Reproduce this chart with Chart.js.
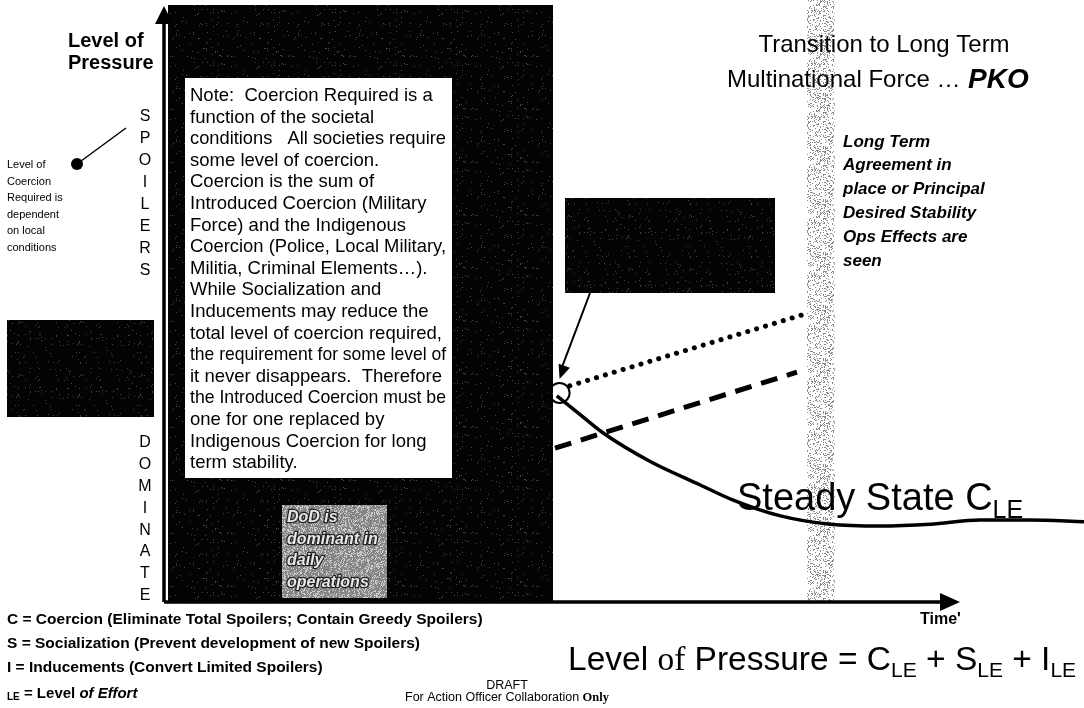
<!DOCTYPE html>
<html lang="en">
<head>
<meta charset="UTF-8">
<title>Level of Pressure</title>
<script src="https://cdn.jsdelivr.net/npm/chart.js"></script>
<style>
  html, body { margin: 0; padding: 0; background: #fff; }
  #wrap { width: 1084px; height: 708px; }
</style>
</head>
<body>
<div id="wrap"><canvas id="pressureChart" width="1084" height="708"></canvas></div>
<script>
// both axes run 0..100 (time across, level of pressure up)
const coercionTime  = [42.7, 45.2, 47.7, 52.8, 58.3, 61.8, 67.0, 72.4, 77.8, 83.3, 88.7, 94.1, 100];
const coercionLevel = [34.7, 31.6, 28.5, 23.7, 19.7, 17.2, 14.5, 13.1, 12.8, 13.1, 13.8, 13.8, 13.5];
const dottedTime  = [44.1, 69.3];
const dottedLevel = [36.4, 48.3];
const dashedTime  = [42.5, 68.8];
const dashedLevel = [25.9, 38.7];
const startTime  = [43.0];
const startLevel = [35.2];
const transitionBand = [69.9, 72.9];

const titleLines = ['Transition to Long Term', 'Multinational Force \u2026', 'PKO'];
const noteLines = [
  'Note:  Coercion Required is a',
  'function of the societal',
  'conditions   All societies require',
  'some level of coercion.',
  'Coercion is the sum of',
  'Introduced Coercion (Military',
  'Force) and the Indigenous',
  'Coercion (Police, Local Military,',
  'Militia, Criminal Elements\u2026).',
  'While Socialization and',
  'Inducements may reduce the',
  'total level of coercion required,',
  'the requirement for some level of',
  'it never disappears.  Therefore',
  'the Introduced Coercion must be',
  'one for one replaced by',
  'Indigenous Coercion for long',
  'term stability.'
];
const coercionLabel = ['Level of', 'Coercion', 'Required is', 'dependent', 'on local', 'conditions'];
const agreementLines = ['Long Term', 'Agreement in', 'place or Principal', 'Desired Stability', 'Ops Effects are', 'seen'];
const dodLines = ['DoD is', 'dominant in', 'daily', 'operations'];
const legendLines = [
  'C = Coercion (Eliminate Total Spoilers; Contain Greedy Spoilers)',
  'S = Socialization (Prevent development of new Spoilers)',
  'I = Inducements (Convert Limited Spoilers)'
];

const SANS = '"Liberation Sans", Arial, sans-serif';
const SERIF = '"Liberation Serif", "Times New Roman", serif';

function pts(xs, ys) { return xs.map((x, i) => ({ x: x, y: ys[i] })); }

// fixed dither pattern for the scanned-looking fills
function speckle(ctx, base, dot, density, seed) {
  const c = document.createElement('canvas');
  c.width = 61; c.height = 53;
  const g = c.getContext('2d');
  g.fillStyle = base; g.fillRect(0, 0, c.width, c.height);
  g.fillStyle = dot;
  for (let i = 0; i < c.width; i++) {
    for (let j = 0; j < c.height; j++) {
      let h = Math.imul(i * 374761393 + j * 668265263 + seed, 1274126177);
      h ^= h >>> 13; h = Math.imul(h, 1597334677); h ^= h >>> 16;
      if (((h >>> 0) % 1000) < density * 1000) g.fillRect(i, j, 1, 1);
    }
  }
  return ctx.createPattern(c, 'repeat');
}

function text(ctx, str, x, y, font, align, maxW) {
  ctx.font = font;
  ctx.textAlign = align || 'left';
  ctx.textBaseline = 'middle';
  if (maxW) ctx.fillText(str, x, y, maxW);
  else ctx.fillText(str, x, y);
}

// draw runs of text on one baseline: [str, font, dy]
function runs(ctx, x, y, parts) {
  ctx.textAlign = 'left';
  ctx.textBaseline = 'alphabetic';
  parts.forEach(p => {
    ctx.font = p[1];
    ctx.fillText(p[0], x, y + (p[2] || 0));
    x += ctx.measureText(p[0]).width;
  });
  return x;
}

function arrowHead(ctx, tx, ty, angle, len, half) {
  ctx.beginPath();
  ctx.moveTo(tx, ty);
  ctx.lineTo(tx - len * Math.cos(angle) + half * Math.sin(angle), ty - len * Math.sin(angle) - half * Math.cos(angle));
  ctx.lineTo(tx - len * Math.cos(angle) - half * Math.sin(angle), ty - len * Math.sin(angle) + half * Math.cos(angle));
  ctx.closePath();
  ctx.fill();
}

const backdrop = {
  id: 'backdrop',
  beforeDatasetsDraw(chart) {
    const ctx = chart.ctx;
    const xs = chart.scales.x, ys = chart.scales.y;
    ctx.save();
    // transition band
    const b0 = xs.getPixelForValue(transitionBand[0]);
    const b1 = xs.getPixelForValue(transitionBand[1]);
    ctx.fillStyle = speckle(ctx, '#ffffff', '#8a8a8a', 0.22, 11);
    ctx.fillRect(b0, 0, b1 - b0, ys.getPixelForValue(0));

    // dark panel
    ctx.fillStyle = speckle(ctx, '#030303', '#484848', 0.025, 3);
    ctx.fillRect(168, 5, 385, 597);
    // note box
    ctx.fillStyle = '#ffffff';
    ctx.fillRect(185, 78, 267, 400);
    // DoD box
    ctx.fillStyle = speckle(ctx, '#858585', '#cdcdcd', 0.3, 7);
    ctx.fillRect(282, 505, 105, 93);
    // left black box
    ctx.fillStyle = speckle(ctx, '#030303', '#444444', 0.025, 5);
    ctx.fillRect(7, 320, 147, 97);
    // upper right black box
    ctx.fillRect(565, 198, 210, 95);
    ctx.restore();
  },
  afterDatasetsDraw(chart) {
    const ctx = chart.ctx;
    const xs = chart.scales.x, ys = chart.scales.y;
    const ax = xs.getPixelForValue(0), ay = ys.getPixelForValue(0);
    ctx.save();
    ctx.fillStyle = '#000';
    ctx.strokeStyle = '#000';

    // axes
    ctx.lineWidth = 3.5;
    ctx.beginPath();
    ctx.moveTo(ax, ay); ctx.lineTo(ax, 22);
    ctx.moveTo(ax, ay); ctx.lineTo(942, ay);
    ctx.stroke();
    arrowHead(ctx, ax, 6, -Math.PI / 2, 18, 9);
    arrowHead(ctx, 960, ay, 0, 20, 9);

    // pointer from the upper box to the start circle
    const cx = xs.getPixelForValue(startTime[0]), cy = ys.getPixelForValue(startLevel[0]);
    ctx.lineWidth = 2;
    ctx.beginPath();
    ctx.moveTo(590, 293); ctx.lineTo(cx + 1, cy - 22);
    ctx.stroke();
    arrowHead(ctx, cx, cy - 14, Math.atan2(cy - 14 - 293, cx - 590), 14, 6);

    // pointer to the coercion label
    ctx.lineWidth = 1.5;
    ctx.beginPath();
    ctx.moveTo(126, 128); ctx.lineTo(77, 164);
    ctx.stroke();
    ctx.beginPath(); ctx.arc(77, 164, 6, 0, Math.PI * 2); ctx.fill();

    // axis title
    text(ctx, 'Level of', 68, 41, 'bold 20px ' + SANS);
    text(ctx, 'Pressure', 68, 63, 'bold 20px ' + SANS);

    coercionLabel.forEach((s, i) => text(ctx, s, 7, 165 + i * 16.6, '11px ' + SANS));

    'SPOILERS'.split('').forEach((c, i) => text(ctx, c, 145, 117 + i * 21.9, '16px ' + SANS, 'center'));
    'DOMINATE'.split('').forEach((c, i) => text(ctx, c, 145, 443 + i * 21.8, '16px ' + SANS, 'center'));

    // note
    noteLines.forEach((s, i) => text(ctx, s, 190, 96 + i * 21.6, '18.5px ' + SANS, 'left', 256));

    // DoD text
    ctx.lineWidth = 2.5;
    ctx.strokeStyle = '#222';
    ctx.fillStyle = '#e8e8e8';
    ctx.lineJoin = 'round';
    dodLines.forEach((s, i) => {
      ctx.font = 'italic bold 16px ' + SANS;
      ctx.textAlign = 'left'; ctx.textBaseline = 'middle';
      ctx.strokeText(s, 287, 518 + i * 21.5, 98);
      ctx.fillText(s, 287, 518 + i * 21.5, 98);
    });
    ctx.fillStyle = '#000';

    // title
    text(ctx, titleLines[0], 884, 45, '24px ' + SANS, 'center');
    text(ctx, titleLines[1], 727, 80, '24px ' + SANS);
    text(ctx, titleLines[2], 968, 80, 'italic bold 28px ' + SANS);

    agreementLines.forEach((s, i) => text(ctx, s, 843, 142 + i * 23.8, 'italic bold 17px ' + SANS));

    // steady state label
    runs(ctx, 737, 510, [['Steady State C', '38px ' + SANS], ['LE', '25px ' + SANS, 8]]);

    // time label
    text(ctx, 'Time\'', 920, 620, 'bold 16px ' + SANS);

    // legend
    legendLines.forEach((s, i) => text(ctx, s, 7, 620 + i * 24, 'bold 15.5px ' + SANS));
    runs(ctx, 7, 698, [['LE', 'bold 10px ' + SANS, 2], [' = Level ', 'bold 15px ' + SANS], ['of Effort', 'italic bold 15px ' + SANS]]);

    // equation
    const big = '33.5px ' + SANS, sub = '21px ' + SANS;
    runs(ctx, 568, 670, [
      ['Level ', big], ['of', '33.5px ' + SERIF], [' Pressure = C', big], ['LE', sub, 7],
      [' + S', big], ['LE', sub, 7], [' + I', big], ['LE', sub, 7]
    ]);

    // footer
    text(ctx, 'DRAFT', 507, 686, '12.5px ' + SANS, 'center');
    runs(ctx, 405, 701, [['For Action Officer Collaboration ', '12.5px ' + SANS], ['Only', 'bold 12.5px ' + SERIF]]);
    ctx.restore();
  }
};

const ctx = document.getElementById('pressureChart').getContext('2d');
const pressureChart = new Chart(ctx, {
  type: 'scatter',
  data: {
    datasets: [
      {
        label: 'Start',
        data: pts(startTime, startLevel),
        pointRadius: 10,
        pointBorderWidth: 2,
        pointBorderColor: '#000',
        pointBackgroundColor: 'rgba(0,0,0,0)',
        showLine: false
      },
      {
        label: 'Coercion',
        data: pts(coercionTime, coercionLevel),
        showLine: true,
        borderColor: '#000',
        borderWidth: 3.5,
        pointRadius: 0,
        cubicInterpolationMode: 'monotone'
      },
      {
        label: 'Dotted',
        data: pts(dottedTime, dottedLevel),
        showLine: true,
        borderColor: '#000',
        borderWidth: 5,
        borderDash: [0.1, 9.2],
        borderCapStyle: 'round',
        pointRadius: 0
      },
      {
        label: 'Dashed',
        data: pts(dashedTime, dashedLevel),
        showLine: true,
        borderColor: '#000',
        borderWidth: 5,
        borderDash: [17, 10],
        pointRadius: 0
      }
    ]
  },
  options: {
    responsive: false,
    animation: false,
    devicePixelRatio: 1,
    layout: { autoPadding: false, padding: { left: 164, right: 0, top: 8, bottom: 106 } },
    plugins: { legend: { display: false }, tooltip: { enabled: false } },
    scales: {
      x: { type: 'linear', min: 0, max: 100, display: false },
      y: { type: 'linear', min: 0, max: 100, display: false }
    }
  },
  plugins: [backdrop]
});
</script>
</body>
</html>
